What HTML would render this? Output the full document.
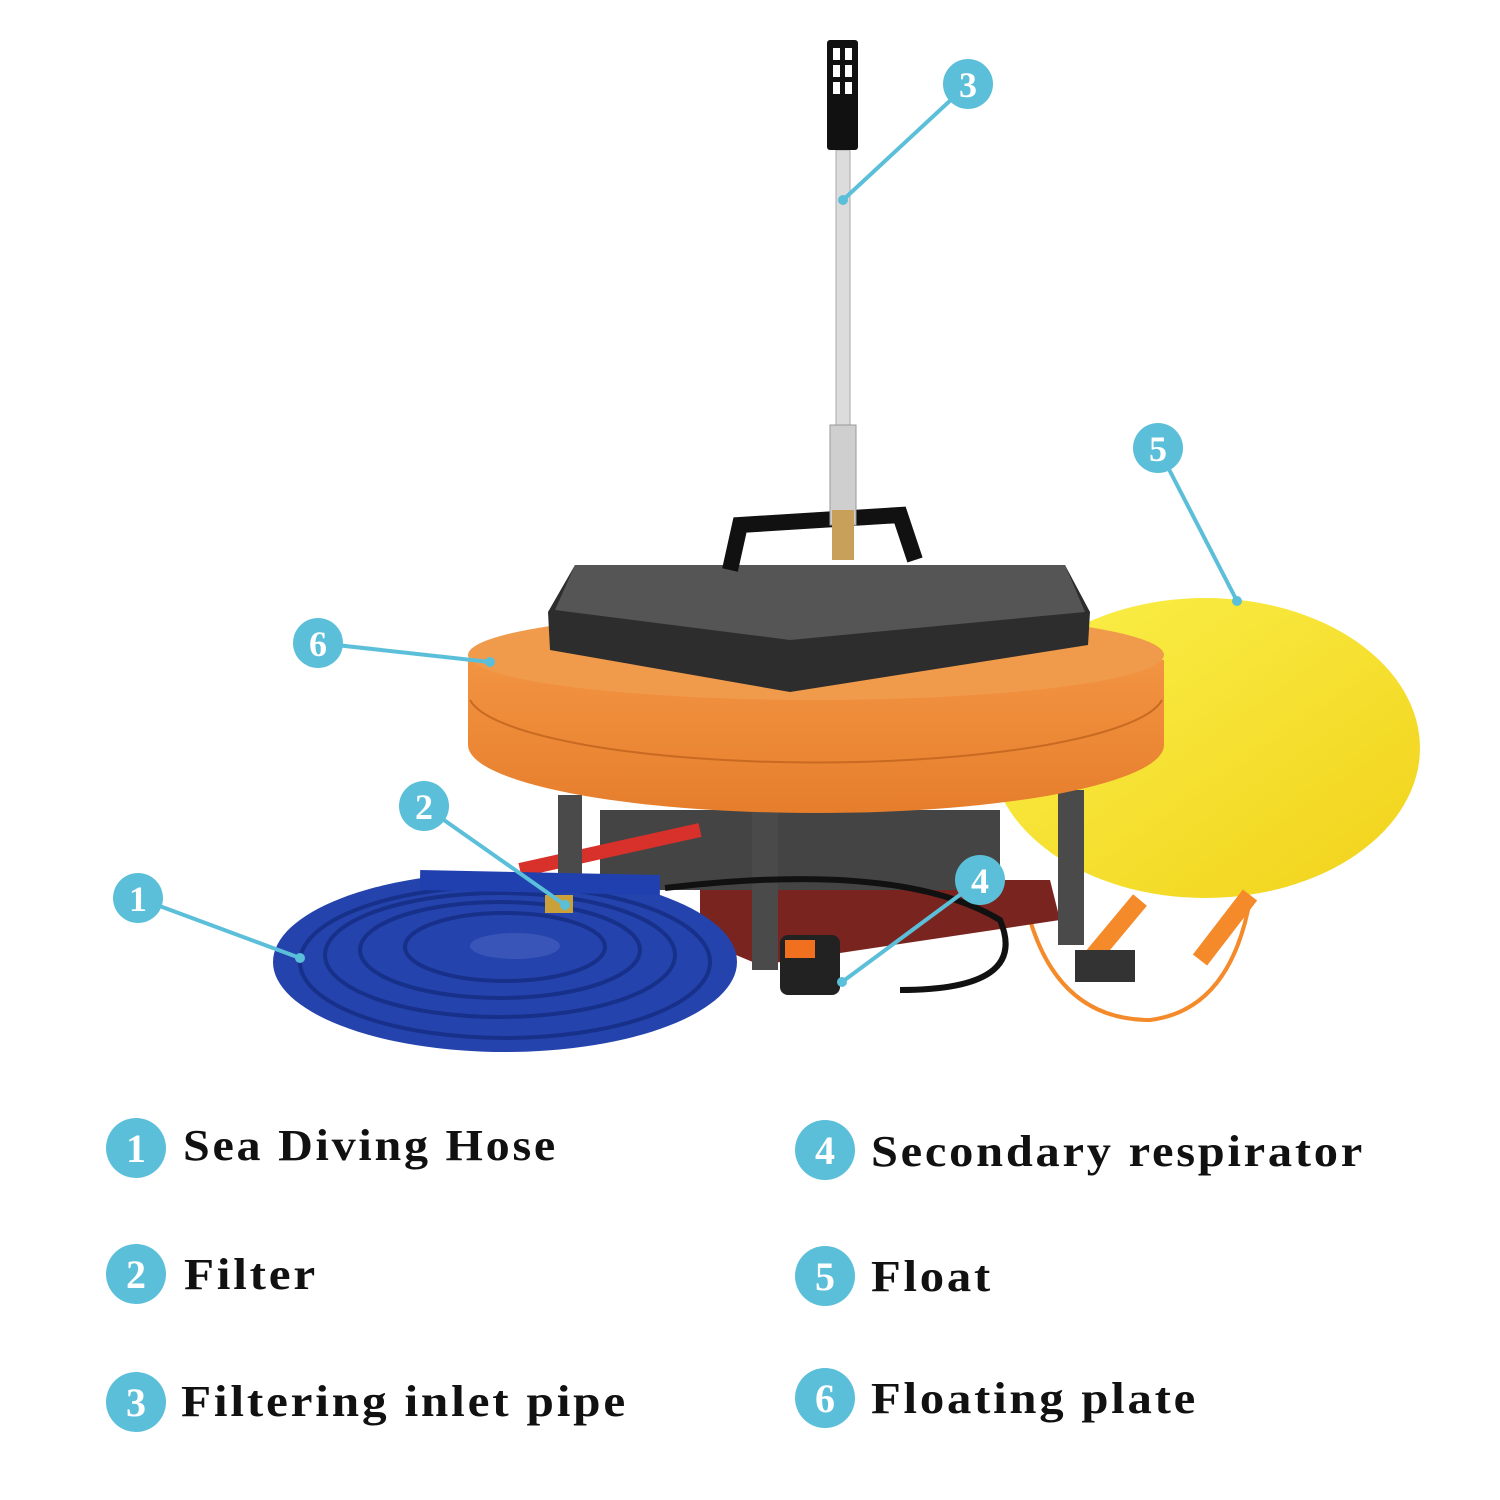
<!DOCTYPE html>
<html><head><meta charset="utf-8"><style>
html,body{margin:0;padding:0;background:#fff;}
svg{display:block}
.t{font-family:"Liberation Serif",serif;font-weight:bold;font-size:44px;letter-spacing:2.5px;fill:#111}
.n{font-family:"Liberation Serif",serif;font-weight:bold;fill:#fff;text-anchor:middle}
</style></head><body>
<svg width="1500" height="1500" viewBox="0 0 1500 1500" xmlns="http://www.w3.org/2000/svg">
<defs>
<linearGradient id="yel" x1="0" y1="0" x2="1" y2="1"><stop offset="0" stop-color="#fbf04a"/><stop offset="1" stop-color="#f1d21a"/></linearGradient>
<linearGradient id="org" x1="0" y1="0" x2="0" y2="1"><stop offset="0" stop-color="#f29442"/><stop offset="1" stop-color="#e67e2c"/></linearGradient>
</defs>
<ellipse cx="1205" cy="748" rx="215" ry="150" fill="url(#yel)"/>
<path d="M1140 900 L1090 960 M1250 895 L1200 960" stroke="#f58a2a" stroke-width="18"/>
<path d="M1030 920 Q1060 1020 1150 1020 Q1230 1010 1250 900" stroke="#f58a2a" stroke-width="4" fill="none"/>
<rect x="1075" y="950" width="60" height="32" fill="#333"/>
<polygon points="700,880 1050,880 1060,920 760,965 700,940" fill="#7a2420"/>
<rect x="600" y="810" width="400" height="80" fill="#444"/>
<path d="M520 870 L700 830" stroke="#d8302a" stroke-width="14"/>
<rect x="558" y="795" width="24" height="80" fill="#4a4a4a"/>
<rect x="752" y="810" width="26" height="160" fill="#4a4a4a"/>
<rect x="1058" y="790" width="26" height="155" fill="#4a4a4a"/>
<path d="M468 660 L468 745 A348 68 0 0 0 1164 745 L1164 660 Z" fill="url(#org)"/>
<ellipse cx="816" cy="655" rx="348" ry="45" fill="#f09a4c"/>
<path d="M470 700 A348 70 0 0 0 1162 700" stroke="#c96a22" stroke-width="2" fill="none"/>
<polygon points="548,612 575,565 1065,565 1090,612 1088,645 790,692 550,650" fill="#2d2d2d"/>
<polygon points="575,565 1065,565 1085,612 790,640 555,610" fill="#555"/>
<path d="M730 570 L740 525 L900 515 L915 560" stroke="#111" stroke-width="16" fill="none"/>
<rect x="836" y="150" width="14" height="280" fill="#dcdcdc" stroke="#aaa"/>
<rect x="830" y="425" width="26" height="100" fill="#cfcfcf" stroke="#999"/>
<rect x="832" y="510" width="22" height="50" fill="#c9a05a"/>
<rect x="827" y="40" width="31" height="110" rx="3" fill="#111"/>
<rect x="833" y="48" width="7" height="12" fill="#fff"/><rect x="845" y="48" width="7" height="12" fill="#fff"/>
<rect x="833" y="65" width="7" height="12" fill="#fff"/><rect x="845" y="65" width="7" height="12" fill="#fff"/>
<rect x="833" y="82" width="7" height="12" fill="#fff"/><rect x="845" y="82" width="7" height="12" fill="#fff"/>
<path d="M665 888 Q900 860 1000 920 Q1030 990 900 990" stroke="#111" stroke-width="6" fill="none"/>
<rect x="780" y="935" width="60" height="60" rx="8" fill="#222"/>
<rect x="785" y="940" width="30" height="18" fill="#f07020"/>
<ellipse cx="505" cy="962" rx="232" ry="90" fill="#2443ac"/>
<g fill="none" stroke="#17308a" stroke-width="4">
<ellipse cx="505" cy="962" rx="205" ry="76"/>
<ellipse cx="500" cy="955" rx="175" ry="62"/>
<ellipse cx="500" cy="950" rx="140" ry="48"/>
<ellipse cx="505" cy="947" rx="100" ry="34"/>
</g>
<ellipse cx="515" cy="946" rx="45" ry="13" fill="#3a55b8"/>
<path d="M420 880 L660 885" stroke="#2040b0" stroke-width="20"/>
<rect x="545" y="895" width="28" height="18" fill="#c9a03a"/>
<g stroke="#5bbfd9" stroke-width="4" fill="none">
<line x1="968" y1="84" x2="843" y2="200"/>
<line x1="1158" y1="448" x2="1237" y2="601"/>
<line x1="318" y1="643" x2="490" y2="662"/>
<line x1="424" y1="806" x2="565" y2="905"/>
<line x1="138" y1="898" x2="300" y2="958"/>
<line x1="980" y1="880" x2="842" y2="982"/>
</g>
<g fill="#5bbfd9">
<circle cx="843" cy="200" r="5"/><circle cx="1237" cy="601" r="5"/><circle cx="490" cy="662" r="5"/>
<circle cx="565" cy="905" r="5"/><circle cx="300" cy="958" r="5"/><circle cx="842" cy="982" r="5"/>
<circle cx="968" cy="84" r="25"/><circle cx="1158" cy="448" r="25"/><circle cx="318" cy="643" r="25"/>
<circle cx="424" cy="806" r="25"/><circle cx="138" cy="898" r="25"/><circle cx="980" cy="880" r="25"/>
<circle cx="136" cy="1148" r="30"/><circle cx="136" cy="1274" r="30"/><circle cx="136" cy="1402" r="30"/>
<circle cx="825" cy="1150" r="30"/><circle cx="825" cy="1276" r="30"/><circle cx="825" cy="1398" r="30"/>
</g>
<g class="n" font-size="36">
<text x="968" y="97">3</text><text x="1158" y="461">5</text><text x="318" y="656">6</text>
<text x="424" y="819">2</text><text x="138" y="911">1</text><text x="980" y="893">4</text>
</g>
<g class="n" font-size="40">
<text x="136" y="1162">1</text><text x="136" y="1288">2</text><text x="136" y="1416">3</text>
<text x="825" y="1164">4</text><text x="825" y="1290">5</text><text x="825" y="1412">6</text>
</g>
<text class="t" x="183" y="1160" textLength="375" lengthAdjust="spacingAndGlyphs">Sea Diving Hose</text>
<text class="t" x="184" y="1289" textLength="134" lengthAdjust="spacingAndGlyphs">Filter</text>
<text class="t" x="181" y="1416" textLength="447" lengthAdjust="spacingAndGlyphs">Filtering inlet pipe</text>
<text class="t" x="871" y="1166" textLength="494" lengthAdjust="spacingAndGlyphs">Secondary respirator</text>
<text class="t" x="871" y="1291" textLength="122" lengthAdjust="spacingAndGlyphs">Float</text>
<text class="t" x="871" y="1413" textLength="327" lengthAdjust="spacingAndGlyphs">Floating plate</text>
</svg>
</body></html>
